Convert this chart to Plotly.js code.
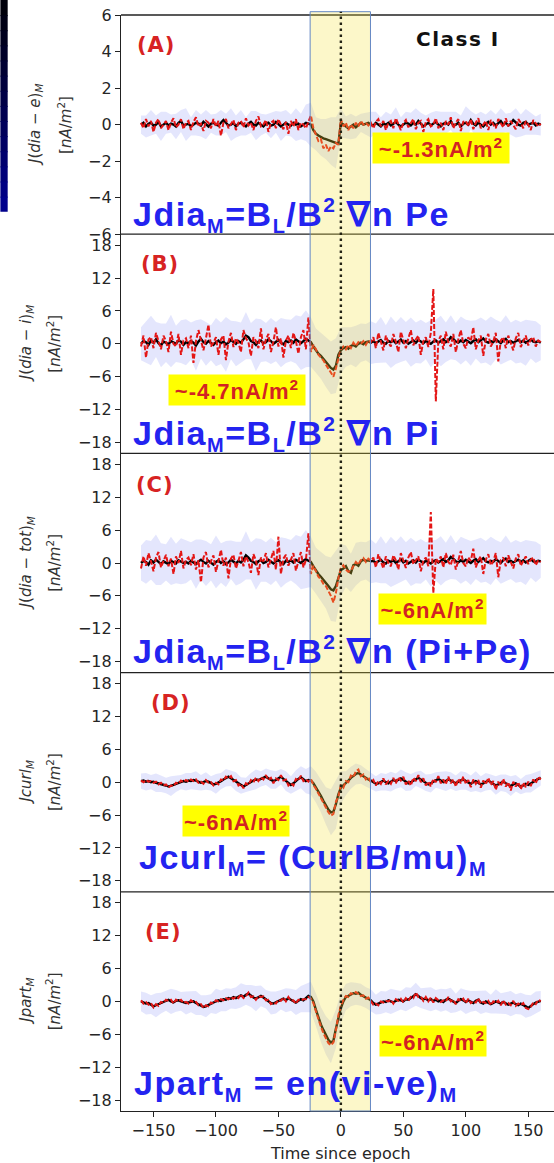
<!DOCTYPE html>
<html><head><meta charset="utf-8">
<script src="https://cdn.plot.ly/plotly-3.0.1.min.js"></script>
<style>html,body{margin:0;padding:0;background:#fff;} #chart{width:554px;height:1163px;}</style>
</head><body><div id="chart"></div>
<script>
// ---- sampling grid (time since epoch), every 2 units from -160 to 160 ----
const tStart = -160, tStep = 2, nPts = 161;
const time = Array.from({length: nPts}, (_, i) => tStart + tStep * i);
// band spread sampled every 4 units (every other time sample)
const bandTime = time.filter((_, i) => i % 2 === 0);

// ---- Panel A: J(dia-e)M ----
const aBlack = [0.0,0.1,-0.1,0.05,0.1,-0.05,0.0,0.15,-0.1,0.0,
0.1,-0.05,0.05,0.0,-0.1,0.1,0.2,-0.05,0.0,0.05,
-0.1,0.0,0.1,0.05,-0.05,0.15,0.0,-0.1,0.05,0.1,
0.0,-0.05,0.1,0.25,0.1,-0.05,0.0,0.1,-0.1,0.05,
0.1,0.0,-0.1,0.05,0.15,0.0,-0.05,0.1,0.0,-0.1,
0.05,0.1,-0.05,0.0,0.15,0.05,-0.1,0.0,0.1,0.0,
-0.05,0.1,0.0,0.05,-0.1,0.0,0.1,0.05,
0.0,-0.3,-0.5,-0.6,-0.7,-0.75,-0.8,-0.85,-0.9,-0.95,-1.0,-1.05,0.1,
0.0,-0.15,-0.2,-0.1,0.0,-0.15,-0.05,0.1,0.0,0.05,0.1,0.0,
-0.05,0.1,0.0,-0.1,0.05,0.0,0.1,
-0.05,0.05,0.15,0.0,-0.1,0.0,0.1,0.05,-0.05,0.1,
0.0,0.2,0.05,-0.1,0.0,0.1,-0.05,0.05,0.15,0.0,
-0.1,0.05,0.1,0.0,0.2,-0.05,0.0,0.1,-0.1,0.05,
0.1,0.0,0.25,0.05,-0.05,0.1,0.0,-0.1,0.05,0.15,
0.0,0.1,-0.05,0.05,0.2,0.0,0.1,-0.05,0.05,0.25,
0.1,0.0,-0.05,0.1,0.15,0.0,0.05,0.1,-0.05,0.05,0.0];
const aRed = [0.1,-0.2,0.3,-0.1,0.2,-0.4,0.1,0.3,-0.2,0.0,
0.2,-0.3,0.1,0.35,-0.15,0.0,0.3,-0.25,0.1,0.2,
-0.3,0.15,0.4,-0.1,0.05,-0.35,0.2,0.1,-0.2,0.3,
-0.1,0.2,-0.6,0.1,0.3,-0.2,0.0,0.25,-0.3,0.1,
0.2,-0.15,0.35,-0.05,0.1,-0.3,0.2,0.45,-0.1,0.0,
0.25,-0.4,0.1,0.2,-0.2,0.3,0.0,-0.25,0.15,-0.5,
0.2,-0.1,0.3,-0.3,0.1,0.0,-0.2,0.2,
0.5,-0.2,-0.6,-0.9,-0.8,-1.3,-1.1,-1.45,-1.2,-1.3,-1.0,-1.1,0.3,
-0.1,0.1,-0.3,0.0,-0.2,0.1,-0.1,0.2,0.0,0.1,-0.05,0.1,
-0.2,0.15,0.3,-0.1,0.2,-0.3,0.1,
0.2,-0.2,0.35,0.0,-0.3,0.1,0.25,-0.15,0.1,0.3,
-0.25,0.1,0.2,-0.4,0.15,0.3,-0.1,0.0,0.35,-0.2,
0.1,-0.3,0.2,0.0,0.4,-0.2,0.1,0.3,-0.35,0.15,
0.2,-0.1,0.3,-0.25,0.1,0.35,-0.2,0.0,0.2,-0.3,
0.25,0.0,-0.2,0.3,0.1,-0.15,0.35,-0.1,0.2,0.0,
-0.25,0.3,0.1,-0.2,0.2,0.0,-0.3,0.25,0.1,-0.1,0.05];
const aSpread = [0.5,0.6,0.7,0.5,0.8,0.6,0.5,0.7,0.6,0.9,
0.5,0.7,0.6,0.8,0.5,0.6,0.7,0.5,0.9,0.6,
0.7,0.5,0.6,0.8,0.6,0.5,0.7,0.6,0.8,0.7,
0.6,0.9,0.7,1.0,
1.2,0.9,1.0,1.1,1.3,1.4,0.8,0.6,0.7,0.6,0.5,0.6,0.7,
0.6,0.5,0.7,0.6,0.8,0.5,0.6,0.7,0.9,0.6,
0.5,0.7,0.6,0.8,0.6,0.5,0.7,0.6,0.9,0.5,
0.6,0.7,0.5,0.8,0.6,0.7,0.5,0.6,0.8,0.6,
0.7,0.6,0.5,0.6];

// ---- Panel B: J(dia-i)M ----
const bBlack = [0.0,0.5,0.3,-0.2,0.6,0.2,0.8,0.1,-0.3,0.4,
0.2,-0.1,0.5,0.3,0.0,0.6,0.4,-0.2,0.3,0.1,
0.5,0.2,-0.3,0.4,0.9,0.3,0.0,0.5,0.2,-0.2,
0.3,0.6,0.1,0.4,-0.1,0.2,0.7,0.3,0.0,0.5,
0.2,0.8,1.5,1.2,0.5,0.3,-0.2,0.4,0.6,0.1,
0.3,0.8,0.5,0.0,0.4,0.7,0.2,-0.1,0.5,0.3,
0.6,0.2,0.8,0.4,0.1,0.5,0.9,0.6,
0.3,-0.5,-1.2,-1.8,-2.2,-2.8,-3.3,-3.9,-4.4,-4.7,-4.0,-2.0,-1.2,
-0.8,-0.6,-0.9,-0.4,-0.2,-0.5,0.0,0.2,-0.1,0.3,0.4,0.2,
0.5,0.1,0.4,0.7,0.2,0.0,0.5,
0.3,0.6,0.1,0.4,0.8,0.2,0.5,0.0,0.3,0.6,
0.2,0.7,0.4,0.1,0.5,0.3,0.0,0.4,0.6,0.2,
0.5,0.8,0.3,0.6,1.2,0.9,0.4,0.2,0.6,0.3,
0.7,0.4,0.1,0.5,0.8,0.3,0.6,1.0,0.4,0.2,
0.5,0.3,0.8,0.4,0.1,0.6,0.9,0.3,0.5,0.2,
0.4,0.7,0.3,0.6,0.2,0.5,0.8,0.4,0.3,0.5,0.2];
const bRed = [-0.5,1.5,-2.5,0.8,1.2,-0.8,2.0,0.3,-1.0,1.5,
0.5,-1.5,2.2,0.0,-0.5,1.8,-2.0,0.6,1.0,-0.8,
1.5,-3.5,0.5,2.5,0.8,-1.2,1.0,3.5,-0.5,0.2,
1.2,-2.0,0.8,1.5,-3.0,0.4,2.0,-0.6,1.0,0.2,
-1.5,2.5,1.0,0.3,-2.2,1.2,0.5,-0.8,2.8,-1.0,
0.8,1.8,-1.5,0.4,3.0,-0.5,1.0,-2.5,0.6,1.5,
-0.8,2.0,0.5,-1.8,1.2,2.5,-1.0,4.8,
-1.5,-0.2,-1.0,-2.0,-2.5,-3.0,-3.8,-4.5,-5.2,-6.0,-4.5,-2.5,-1.0,
-0.5,-1.0,-0.2,-0.8,0.2,-0.4,0.3,0.0,0.5,-0.2,0.6,0.3,
1.2,-0.8,2.0,0.5,-1.2,1.5,0.2,
-0.5,1.8,0.4,-1.5,2.2,0.6,-0.8,1.0,2.5,-0.3,
0.8,1.5,-2.0,0.5,1.2,-0.6,2.0,10.0,-10.5,0.5,
1.5,-1.0,2.2,0.3,-0.5,1.8,-1.5,0.8,2.5,0.0,
-0.8,1.2,0.5,3.0,-1.0,0.6,1.5,-2.2,0.8,1.8,
-0.5,0.4,2.0,-3.2,0.6,1.2,-0.8,1.5,0.2,-1.2,
1.0,2.0,-0.6,0.5,1.5,-0.3,0.8,1.2,-0.5,0.6,0.3];
const bSpread = [3.0,3.8,4.5,3.2,4.0,3.5,4.8,3.3,3.9,4.2,
3.4,4.6,3.6,4.0,3.2,4.4,3.8,5.0,3.5,4.1,
3.7,4.3,3.3,4.8,3.9,3.5,4.2,3.6,4.5,4.0,
3.8,4.4,4.9,5.2,
4.5,4.0,4.2,4.6,4.8,5.0,4.2,3.6,3.4,3.8,3.5,3.3,3.9,
3.6,4.2,3.4,4.7,3.8,4.1,3.5,4.5,3.7,4.0,
3.3,4.3,3.8,4.6,3.6,4.0,3.4,4.4,3.7,4.1,
3.5,4.2,3.8,4.5,3.6,3.9,4.3,3.4,4.0,3.7,
4.2,3.5,3.8,3.2];

// ---- Panel C: J(dia-tot)M ----
const cBlack = [0.0,0.4,0.2,-0.3,0.5,0.1,0.6,0.2,-0.2,0.3,
0.1,-0.2,0.4,0.2,-0.1,0.5,0.3,0.0,0.2,-0.1,
0.4,0.1,-0.2,0.3,0.6,0.2,-0.1,0.4,0.1,-0.3,
0.2,0.5,0.0,0.3,-0.2,0.1,0.6,0.2,-0.1,0.4,
0.1,0.6,1.4,1.0,0.4,0.2,-0.2,0.3,0.5,0.0,
0.2,0.6,0.3,-0.1,0.3,0.5,0.1,-0.2,0.4,0.2,
0.5,0.1,0.6,0.3,0.0,0.4,0.7,0.4,
0.2,-0.6,-1.4,-2.0,-2.5,-3.0,-3.5,-4.2,-4.8,-5.0,-4.2,-2.5,-1.3,
-1.0,-0.6,-1.5,-1.8,-0.4,-0.2,-0.5,0.3,0.6,0.4,0.5,0.3,
0.4,0.0,0.3,0.6,0.1,-0.1,0.4,
0.2,0.5,0.0,0.3,0.7,0.1,0.4,-0.1,0.2,0.5,
0.1,0.6,0.3,0.0,0.4,0.2,-0.1,0.3,0.5,0.1,
0.4,0.7,0.2,0.5,1.1,0.8,0.3,0.1,0.5,0.2,
0.6,0.3,0.0,0.4,0.7,0.2,0.5,0.9,0.3,0.1,
0.4,0.2,0.7,0.3,0.0,0.5,0.8,0.2,0.4,0.1,
0.3,0.6,0.2,0.5,0.1,0.4,0.7,0.3,0.2,0.4,0.3];
const cRed = [-1.0,1.2,-0.5,1.8,0.3,-1.5,1.0,2.0,-0.8,0.5,
1.5,-0.6,0.8,-2.0,1.2,0.0,2.2,-1.0,0.6,1.0,
-0.4,1.6,-1.2,0.5,-3.5,1.0,2.0,-0.8,0.3,1.4,
-1.6,0.6,2.4,-0.5,1.0,-2.8,0.8,1.5,-1.0,0.4,
2.0,-0.6,1.2,0.2,-1.8,1.6,0.5,-2.2,1.0,0.3,
1.8,-0.8,0.6,2.2,-1.2,4.8,-2.0,0.8,1.5,-0.5,
0.6,1.8,-1.4,0.4,2.0,-0.8,0.5,5.4,
-2.0,-0.5,-1.5,-2.5,-3.0,-3.8,-4.2,-5.0,-6.0,-7.2,-5.5,-2.8,-1.0,
-0.4,-1.2,-1.6,-1.4,-0.6,0.2,-0.3,0.5,0.9,0.2,0.8,0.4,
1.0,-0.8,1.6,0.2,-1.0,1.2,0.0,
-0.6,1.4,0.5,-1.2,1.8,0.3,-0.9,1.0,2.0,-0.2,
0.6,1.2,-1.5,0.4,1.0,-0.6,9.3,-5.5,0.8,0.2,
1.2,-0.8,1.8,0.2,-0.4,1.5,-1.2,0.6,2.2,0.0,
-0.6,1.0,0.4,2.6,-0.8,0.5,1.2,-2.0,0.6,1.6,
-0.4,0.3,1.8,-2.6,0.5,1.0,-0.6,1.4,0.2,-1.0,
0.8,1.6,-0.5,0.4,1.2,-0.2,0.6,1.0,-0.4,0.5,0.2];
const cSpread = [3.2,4.0,3.5,4.6,3.8,3.3,4.4,3.6,4.2,3.9,
3.4,4.5,3.7,4.1,3.3,4.8,3.6,4.2,3.5,4.0,
3.8,4.4,3.4,4.7,3.9,3.6,4.3,3.5,4.6,4.1,
3.7,4.5,4.8,5.3,
4.6,4.2,4.5,4.8,5.8,6.5,4.8,3.8,3.5,3.9,3.6,3.4,4.0,
3.5,4.3,3.6,4.6,3.9,4.2,3.4,4.4,3.8,4.1,
3.4,4.2,3.7,4.5,3.5,4.0,3.3,4.3,3.8,4.0,
3.6,4.1,3.7,4.4,3.5,3.8,4.2,3.3,3.9,3.6,
4.1,3.4,3.7,3.0];

// ---- Panel D: JcurlM ----
const dBlack = [0.2,0.3,0.1,0.2,0.0,0.1,-0.1,-0.2,-0.3,-0.5,
-0.6,-0.8,-0.7,-0.5,-0.3,-0.1,0.0,0.2,0.1,0.3,
0.2,0.4,0.3,0.1,-0.1,0.0,0.2,0.1,-0.2,-0.4,
-0.3,-0.1,0.2,0.5,0.8,1.0,0.7,0.4,0.1,-0.3,
-0.6,-0.8,-0.5,-0.2,0.1,0.3,0.5,0.4,0.6,0.8,
1.0,0.7,0.5,0.2,0.4,0.7,1.0,0.6,0.2,-0.2,
-0.5,-0.2,0.3,0.6,0.9,0.5,0.2,0.4,
0.3,-0.2,-0.9,-1.6,-2.5,-3.4,-4.3,-5.0,-5.5,-5.4,-4.0,-2.2,-1.0,
-0.6,-0.2,0.3,0.8,1.2,1.5,1.7,1.4,1.0,0.8,0.5,0.3,
0.0,-0.3,-0.2,0.1,0.3,0.0,-0.2,
0.1,0.4,0.2,0.5,0.7,0.4,0.1,-0.2,0.0,0.3,
0.6,0.8,0.5,0.2,-0.1,-0.4,-0.2,0.1,0.4,0.6,
0.3,0.0,0.2,0.5,0.3,0.0,-0.2,0.1,0.3,0.5,
0.2,-0.1,-0.3,0.0,0.2,-0.1,-0.4,-0.2,0.1,0.3,
0.0,-0.3,-0.6,-0.4,-0.1,0.1,-0.2,-0.5,-0.7,-0.4,
-0.2,-0.5,-0.8,-0.6,-0.3,-0.5,-0.2,0.0,0.3,0.6,0.8];
const dRed = [0.3,0.0,0.4,0.1,0.2,-0.1,0.1,-0.4,-0.1,-0.6,
-0.4,-1.0,-0.6,-0.7,-0.1,-0.3,0.3,0.0,0.4,0.1,
0.5,0.2,0.5,-0.1,0.1,-0.3,0.4,-0.1,0.0,-0.6,
-0.1,-0.4,0.5,0.3,1.0,0.7,1.1,0.2,0.4,-0.6,
-0.3,-1.1,-0.2,-0.5,0.4,0.0,0.8,0.2,0.9,0.5,
1.3,0.4,0.8,-0.2,0.7,0.4,1.3,0.3,0.5,-0.6,
-0.2,-0.6,0.6,0.3,1.2,0.2,0.5,0.1,
0.6,-0.5,-1.2,-2.0,-2.8,-3.8,-4.6,-5.5,-6.1,-5.8,-3.6,-2.6,-0.6,
-1.0,0.2,0.0,1.2,0.9,2.0,2.3,1.1,1.4,0.5,0.9,0.0,
0.4,-0.6,0.2,-0.3,0.7,-0.4,0.2,
-0.3,0.8,-0.2,0.9,0.3,1.0,-0.4,0.3,-0.6,0.8,
0.2,1.3,0.0,0.7,-0.6,0.1,-0.8,0.6,0.0,1.1,
-0.2,0.5,-0.4,1.0,-0.2,0.5,-0.8,0.6,-0.2,1.0,
-0.3,0.4,-0.9,0.5,-0.3,0.4,-1.0,0.3,-0.4,0.8,
-0.5,0.2,-1.4,0.1,-0.7,0.6,-0.8,0.0,-1.5,0.1,
-0.8,0.0,-1.3,-0.1,-0.9,0.1,-0.7,0.5,-0.2,1.0,0.5];
const dSpread = [1.4,1.6,1.3,1.7,1.5,1.4,1.8,1.5,1.3,1.6,
1.5,1.7,1.4,1.6,1.3,1.8,1.5,1.6,1.4,1.7,
1.5,1.3,1.6,1.8,1.4,1.5,1.7,1.6,1.4,1.8,
1.6,1.9,2.0,2.2,
2.6,2.8,3.0,3.4,4.2,4.5,3.0,2.2,2.0,1.9,1.7,1.6,1.5,
1.4,1.6,1.5,1.8,1.4,1.6,1.7,1.5,1.3,1.6,
1.5,1.7,1.4,1.6,1.8,1.5,1.4,1.7,1.6,1.5,
1.8,1.5,1.6,1.4,1.7,1.5,1.6,1.8,1.5,1.4,
1.6,1.7,1.5,1.4];

// ---- Panel E: JpartM ----
const eBlack = [0.0,-0.2,-0.4,-0.3,-0.6,-0.9,-0.7,-0.5,-0.3,-0.1,
0.1,0.3,0.0,-0.2,0.1,0.2,0.0,-0.1,-0.3,-0.2,
-0.1,0.0,-0.3,-0.5,-0.7,-1.0,-0.9,-0.6,-0.4,-0.2,
0.0,0.2,0.1,0.4,0.3,0.6,0.5,0.8,0.6,0.9,
1.1,0.8,1.2,1.4,1.0,0.7,0.5,0.8,1.0,0.7,
0.4,0.0,-0.3,-0.4,-0.2,0.1,0.3,0.5,0.2,0.6,
0.3,0.0,-0.2,0.1,0.4,0.2,0.6,1.0,
0.8,0.0,-1.5,-3.0,-4.2,-5.2,-6.2,-7.0,-7.5,-7.2,-5.0,-2.8,-1.2,
0.0,0.8,1.0,1.3,1.5,1.4,1.6,1.2,0.9,0.7,0.5,0.2,
-0.3,-0.6,-0.4,-0.2,0.0,-0.1,0.2,
0.0,-0.2,0.1,0.3,0.2,0.0,0.4,0.3,0.6,0.9,
1.3,1.0,0.6,0.4,0.5,0.2,0.4,0.1,0.3,0.0,
0.2,-0.1,0.3,0.5,0.2,0.0,-0.3,0.1,0.4,0.2,
-0.1,0.2,0.0,-0.3,0.1,0.3,-0.2,-0.4,0.0,-0.2,
-0.5,-0.3,0.0,-0.2,-0.4,-0.1,-0.3,-0.6,-0.4,-0.2,
-0.5,-0.7,-0.4,-0.6,-0.9,-1.2,-0.8,-0.5,-0.2,0.0,0.1];
const eRed = [0.2,-0.4,-0.1,-0.6,-0.3,-1.1,-0.5,-0.8,-0.1,-0.3,
0.3,0.1,0.3,-0.4,0.3,0.0,0.3,-0.3,-0.1,-0.4,
0.2,-0.2,-0.1,-0.7,-0.5,-1.2,-0.7,-0.9,-0.2,-0.4,
0.2,0.0,0.4,0.2,0.6,0.4,0.8,0.5,0.9,0.6,
1.3,0.6,1.0,1.6,0.8,0.9,0.3,1.0,0.8,0.9,
0.2,0.3,-0.5,-0.2,-0.4,0.3,0.1,0.7,0.0,0.8,
0.1,0.2,-0.4,0.3,0.2,0.4,0.4,0.8,
0.5,-0.3,-1.8,-3.4,-4.6,-5.8,-6.8,-7.6,-8.0,-7.5,-5.3,-2.5,-0.8,
0.3,1.0,0.8,1.5,1.3,1.7,1.4,1.0,1.1,0.5,0.7,0.0,
-0.6,-0.4,-0.7,0.0,-0.2,0.1,0.0,
0.3,-0.4,0.4,0.1,0.5,-0.2,0.6,0.1,0.8,0.6,
1.6,0.8,0.9,0.1,0.8,0.0,0.7,-0.2,0.6,0.3,
-0.1,0.2,0.0,0.8,0.0,0.3,-0.5,0.4,0.1,0.5,
-0.3,0.5,-0.3,0.0,-0.2,0.6,-0.4,-0.1,-0.3,0.1,
-0.7,0.0,-0.3,0.1,-0.7,0.2,-0.6,-0.3,-0.7,0.1,
-0.8,-0.4,-0.7,-0.3,-1.2,-1.4,-1.0,-0.2,-0.5,0.3,0.0];
const eSpread = [1.8,2.0,1.7,2.2,1.9,1.8,2.3,2.0,1.7,2.1,
1.9,2.2,1.8,2.0,1.7,2.3,1.9,2.1,1.8,2.0,
2.2,1.8,2.0,2.3,1.9,1.7,2.1,2.0,1.8,2.2,
2.0,2.3,2.4,2.6,
2.8,3.0,3.2,3.5,3.8,3.5,2.8,2.4,2.2,2.0,2.0,1.9,2.0,
1.8,2.1,1.9,2.3,2.0,1.7,2.2,1.9,2.1,1.8,
2.0,2.2,1.8,2.1,1.9,2.3,1.7,2.0,2.2,1.9,
1.8,2.1,2.0,1.7,2.2,1.9,2.0,2.3,1.8,2.0,
2.1,1.9,2.0,1.8];

// ---- labels ----
const panelLetters = ['(A)', '(B)', '(C)', '(D)', '(E)'];
const yTitleLine1 = [
  '<i>J</i>(<i>dia</i> − <i>e</i>)<sub><i>M</i></sub>',
  '<i>J</i>(<i>dia</i> − <i>i</i>)<sub><i>M</i></sub>',
  '<i>J</i>(<i>dia</i> − <i>tot</i>)<sub><i>M</i></sub>',
  '<i>Jcurl</i><sub><i>M</i></sub>',
  '<i>Jpart</i><sub><i>M</i></sub>'];
const yTitleLine2 = '[<i>nA</i>/<i>m</i><sup>2</sup>]';
const peakLabels = ['~-1.3nA/m<sup>2</sup>', '~-4.7nA/m<sup>2</sup>', '~-6nA/m<sup>2</sup>', '~-6nA/m<sup>2</sup>', '~-6nA/m<sup>2</sup>'];
const formulaLabels = [
  'Jdia<sub>M</sub>=B<sub>L</sub>/B<sup>2</sup> ∇n Pe',
  'Jdia<sub>M</sub>=B<sub>L</sub>/B<sup>2</sup> ∇n Pi',
  'Jdia<sub>M</sub>=B<sub>L</sub>/B<sup>2</sup> ∇n (Pi+Pe)',
  'Jcurl<sub>M</sub>= (CurlB/mu)<sub>M</sub>',
  'Jpart<sub>M</sub> = en(vi-ve)<sub>M</sub>'];
const classLabel = 'Class I';
const xTickVals = [-150, -100, -50, 0, 50, 100, 150];
const yTicksA = [-6, -4, -2, 0, 2, 4, 6];
const yTicksOther = [-18, -12, -6, 0, 6, 12, 18];
const epochWindow = [-24.6, 23.7];

const panels = [
  {black: aBlack, red: aRed, spread: aSpread, range: [-6, 6], ticks: yTicksA},
  {black: bBlack, red: bRed, spread: bSpread, range: [-20, 20], ticks: yTicksOther},
  {black: cBlack, red: cRed, spread: cSpread, range: [-20, 20], ticks: yTicksOther},
  {black: dBlack, red: dRed, spread: dSpread, range: [-20, 20], ticks: yTicksOther},
  {black: eBlack, red: eRed, spread: eSpread, range: [-20, 20], ticks: yTicksOther}];

// ---- geometry helpers (pixel -> paper) ----
const L = 120.7, W = 433.3, BOT = 1110.7, H = 1095.7;
const px = x => (x - L) / W;
const py = y => (BOT - y) / H;
const smallScripts = s => s.replace(/<sub>(.*?)<\/sub>/g, '<sub><span style="font-size:20px">$1</span></sub>')
                          .replace(/<sup>(.*?)<\/sup>/g, '<sup><span style="font-size:21px">$1</span></sup>');

const traces = [];
const layout = {
  width: 554, height: 1163,
  margin: {l: L, r: 554 - L - W, t: 15, b: 1163 - BOT},
  paper_bgcolor: '#fff', plot_bgcolor: '#fff',
  showlegend: false,
  font: {family: 'DejaVu Sans', size: 16, color: '#262626'},
  xaxis: {
    range: [-176, 170.6], anchor: 'y5', tickvals: xTickVals,
    ticks: 'outside', ticklen: 5, tickwidth: 1.2, tickcolor: '#222',
    showline: true, linecolor: '#222', linewidth: 1.3,
    showgrid: false, zeroline: false,
    tickfont: {family: 'DejaVu Sans', size: 16, color: '#262626'}
  },
  shapes: [], annotations: []
};

panels.forEach((p, k) => {
  const yid = k === 0 ? 'y' : 'y' + (k + 1);
  const lname = k === 0 ? 'yaxis' : 'yaxis' + (k + 1);
  const center = p.spread.map((s, j) => p.black[2 * j]);
  const lower = p.spread.map((s, j) => center[j] - s);
  const upper = p.spread.map((s, j) => center[j] + s);
  traces.push({x: bandTime, y: lower, yaxis: yid, xaxis: 'x', mode: 'lines', line: {width: 0, color: 'rgba(0,0,0,0)'}, hoverinfo: 'skip'});
  traces.push({x: bandTime, y: upper, yaxis: yid, xaxis: 'x', mode: 'lines', line: {width: 0, color: 'rgba(0,0,0,0)'}, fill: 'tonexty', fillcolor: 'rgba(120,130,245,0.2)', hoverinfo: 'skip'});
  traces.push({x: time, y: p.black, yaxis: yid, xaxis: 'x', mode: 'lines', line: {color: '#000', width: 2.4}});
  traces.push({x: time, y: p.red, yaxis: yid, xaxis: 'x', mode: 'lines', line: {color: 'rgb(228,22,22)', width: 2, dash: '5px,2px'}});
  layout[lname] = {
    domain: [1 - (k + 1) / 5, 1 - k / 5], range: p.range, tickvals: p.ticks, anchor: 'x',
    ticks: 'outside', ticklen: 5, tickwidth: 1.2, tickcolor: '#222',
    showline: true, linecolor: '#222', linewidth: 1.3,
    showgrid: false, zeroline: false,
    tickfont: {family: 'DejaVu Sans', size: 16, color: '#262626'}
  };
  layout.shapes.push({type: 'line', xref: 'paper', yref: 'paper', x0: 0, x1: 1, y0: 1 - k / 5, y1: 1 - k / 5, line: {color: '#222', width: 1.3}, layer: 'above'});
});

// left dark gradient strip
const stripSteps = 14;
for (let s = 0; s < stripSteps; s++) {
  const y0p = 211.7 * s / stripSteps, y1p = Math.min(211.7, 211.7 * (s + 1) / stripSteps + 1);
  const b = Math.round(5 + 140 * (s + 0.5) / stripSteps);
  layout.shapes.push({type: 'rect', xref: 'paper', yref: 'paper', x0: px(0), x1: px(7.3), y0: py(y1p), y1: py(y0p), fillcolor: 'rgb(0,0,' + b + ')', line: {width: 0}, layer: 'above'});
}
// epoch window
layout.shapes.push({type: 'rect', xref: 'x', yref: 'paper', x0: epochWindow[0], x1: epochWindow[1], y0: 0, y1: py(11.7), fillcolor: 'rgba(245,225,60,0.28)', line: {color: 'rgb(100,135,195)', width: 1}, layer: 'above'});
layout.shapes.push({type: 'line', xref: 'x', yref: 'paper', x0: 0, x1: 0, y0: 0, y1: py(11.7), line: {color: 'rgb(35,35,20)', width: 2.4, dash: '2.5px,3.5px'}, layer: 'above'});

// annotations
const letterPos = [[156, 45], [160, 264], [155, 485], [171, 703], [163, 932]];
const peakPos = [[441, 148.3, 136], [237, 390, 136], [432.7, 609.3, 107], [236.2, 820.8, 106], [432.9, 1040.5, 106]];
const formulaPos = [[130.7, 215], [130.7, 433.5], [130.7, 652], [136.7, 859], [131.7, 1085]];
const panelCenters = [0, 1, 2, 3, 4].map(k => BOT - H * (1 - (k + 0.5) / 5));
const titleX = [[35, 64], [26, 53.5], [26, 53.5], [26, 53.5], [26, 53.5]];

panels.forEach((p, k) => {
  layout.annotations.push({xref: 'paper', yref: 'paper', x: px(letterPos[k][0]), y: py(letterPos[k][1]), xanchor: 'center', yanchor: 'middle', showarrow: false,
    text: '<b><span style="letter-spacing:1px">' + panelLetters[k] + '</span></b>', font: {family: 'DejaVu Sans', size: 21, color: 'rgb(215,35,35)'}});
  layout.annotations.push({xref: 'paper', yref: 'paper', x: px(peakPos[k][0]), y: py(peakPos[k][1]), xanchor: 'center', yanchor: 'middle', showarrow: false,
    width: peakPos[k][2], height: 30, bgcolor: 'rgb(255,255,0)', borderpad: 0,
    text: '<b><span style="letter-spacing:1px">' + peakLabels[k] + '</span></b>', font: {family: 'Liberation Sans', size: 22, color: 'rgb(210,35,35)'}});
  layout.annotations.push({xref: 'paper', yref: 'paper', x: px(formulaPos[k][0]), y: py(formulaPos[k][1]), xanchor: 'left', yanchor: 'middle', showarrow: false,
    text: '<b><span style="letter-spacing:1.5px">' + smallScripts(formulaLabels[k]) + '</span></b>', font: {family: 'Liberation Sans', size: 34, color: 'rgb(35,35,240)'}});
  layout.annotations.push({xref: 'paper', yref: 'paper', x: px(titleX[k][0]), y: py(panelCenters[k]), xanchor: 'center', yanchor: 'middle', showarrow: false, textangle: -90,
    text: yTitleLine1[k], font: {family: 'DejaVu Sans', size: 15, color: '#333'}});
  layout.annotations.push({xref: 'paper', yref: 'paper', x: px(titleX[k][1]), y: py(panelCenters[k]), xanchor: 'center', yanchor: 'middle', showarrow: false, textangle: -90,
    text: yTitleLine2, font: {family: 'DejaVu Sans', size: 15, color: '#333'}});
});
layout.annotations.push({xref: 'paper', yref: 'paper', x: px(458), y: py(38.5), xanchor: 'center', yanchor: 'middle', showarrow: false,
  text: '<b><span style="letter-spacing:1.5px">' + classLabel + '</span></b>', font: {family: 'DejaVu Sans', size: 20, color: '#111'}});
layout.annotations.push({xref: 'paper', yref: 'paper', x: px(340.7), y: py(1153), xanchor: 'center', yanchor: 'middle', showarrow: false,
  text: 'Time since epoch', font: {family: 'DejaVu Sans', size: 16, color: '#262626'}});

Plotly.newPlot('chart', traces, layout, {displayModeBar: false, responsive: false});
</script></body></html>
